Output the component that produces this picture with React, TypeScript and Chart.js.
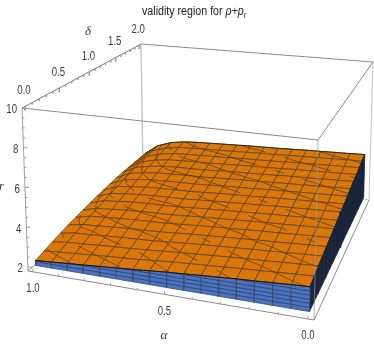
import React, { useEffect, useRef } from "react";
import { Chart, registerables } from "chart.js";
Chart.register(...registerables);

const alphaMesh = [1, 0.9375, 0.875, 0.8125, 0.75, 0.6875, 0.625, 0.5625, 0.5, 0.4375, 0.375, 0.3125, 0.25, 0.1875, 0.125, 0.0625, 0];
const deltaMesh = [0, 0.125, 0.25, 0.375, 0.5, 0.625, 0.75, 0.875, 1, 1.125, 1.25, 1.375, 1.5, 1.625, 1.75, 1.875, 2];
const levels = [2.19, 2.38, 2.56, 2.75, 2.94, 3.13, 3.31, 3.5, 3.69, 3.88, 4.06, 4.25, 4.44, 4.63, 4.81];
// surface height, one row per delta (front to back), one column per alpha
const zGrid = [
  [2.25, 2.30, 2.36, 2.42, 2.48, 2.54, 2.60, 2.67, 2.74, 2.79, 2.85, 2.90, 2.96, 3.00, 3.05, 3.10, 3.14],
  [2.35, 2.42, 2.48, 2.54, 2.60, 2.65, 2.70, 2.77, 2.84, 2.89, 2.94, 2.99, 3.05, 3.09, 3.14, 3.19, 3.23],
  [2.45, 2.56, 2.60, 2.66, 2.71, 2.75, 2.80, 2.87, 2.93, 2.98, 3.04, 3.09, 3.14, 3.18, 3.23, 3.28, 3.32],
  [2.54, 2.68, 2.71, 2.77, 2.82, 2.86, 2.90, 2.96, 3.03, 3.08, 3.13, 3.18, 3.23, 3.27, 3.32, 3.37, 3.41],
  [2.63, 2.78, 2.82, 2.88, 2.93, 2.96, 3.00, 3.06, 3.13, 3.17, 3.22, 3.27, 3.33, 3.36, 3.41, 3.46, 3.50],
  [2.69, 2.88, 2.93, 2.99, 3.04, 3.07, 3.10, 3.16, 3.22, 3.27, 3.32, 3.36, 3.42, 3.45, 3.50, 3.54, 3.58],
  [2.75, 2.97, 3.03, 3.10, 3.14, 3.17, 3.20, 3.26, 3.32, 3.36, 3.41, 3.46, 3.51, 3.54, 3.59, 3.63, 3.67],
  [2.81, 3.06, 3.13, 3.21, 3.25, 3.27, 3.30, 3.36, 3.41, 3.46, 3.50, 3.55, 3.60, 3.63, 3.68, 3.72, 3.76],
  [2.86, 3.14, 3.23, 3.31, 3.35, 3.38, 3.40, 3.46, 3.51, 3.55, 3.60, 3.64, 3.69, 3.73, 3.77, 3.81, 3.85],
  [2.90, 3.22, 3.32, 3.41, 3.45, 3.48, 3.50, 3.55, 3.61, 3.65, 3.69, 3.73, 3.78, 3.82, 3.86, 3.90, 3.94],
  [2.94, 3.29, 3.42, 3.51, 3.55, 3.58, 3.60, 3.65, 3.70, 3.74, 3.78, 3.83, 3.87, 3.91, 3.95, 3.99, 4.03],
  [2.98, 3.36, 3.51, 3.61, 3.65, 3.68, 3.70, 3.75, 3.80, 3.84, 3.87, 3.92, 3.96, 4.00, 4.04, 4.08, 4.12],
  [3.00, 3.42, 3.59, 3.70, 3.75, 3.77, 3.80, 3.85, 3.90, 3.93, 3.97, 4.01, 4.06, 4.09, 4.13, 4.17, 4.21],
  [3.00, 3.46, 3.67, 3.79, 3.84, 3.87, 3.90, 3.95, 3.99, 4.03, 4.06, 4.10, 4.15, 4.18, 4.22, 4.25, 4.29],
  [3.00, 3.50, 3.75, 3.88, 3.94, 3.97, 4.00, 4.04, 4.09, 4.12, 4.15, 4.20, 4.24, 4.27, 4.31, 4.34, 4.38],
  [3.00, 3.55, 3.83, 3.97, 4.03, 4.07, 4.10, 4.14, 4.18, 4.22, 4.25, 4.29, 4.33, 4.36, 4.40, 4.43, 4.47],
  [3.00, 3.60, 3.90, 4.05, 4.12, 4.16, 4.20, 4.24, 4.28, 4.31, 4.34, 4.38, 4.42, 4.45, 4.49, 4.52, 4.56],
];

const alphaMajor = [0, 0.5, 1];
const deltaMajor = [0, 0.5, 1, 1.5, 2];
const zMajor = [2, 4, 6, 8, 10];

function homography(p00: number[], p10: number[], p11: number[], p01: number[]) {
  const [x0, y0] = p00, [x1, y1] = p10, [x2, y2] = p11, [x3, y3] = p01;
  const dx1 = x1 - x2, dx2 = x3 - x2, sx = x0 - x1 + x2 - x3;
  const dy1 = y1 - y2, dy2 = y3 - y2, sy = y0 - y1 + y2 - y3;
  const den = dx1 * dy2 - dx2 * dy1;
  const g = (sx * dy2 - dx2 * sy) / den, h = (dx1 * sy - sx * dy1) / den;
  const a = x1 - x0 + g * x1, b = x3 - x0 + h * x3;
  const d = y1 - y0 + g * y1, e = y3 - y0 + h * y3;
  return (u: number, v: number) => {
    const w = g * u + h * v + 1;
    return [(a * u + b * v + x0) / w, (d * u + e * v + y0) / w];
  };
}
const topPlane = homography([22, 108], [318, 140], [373, 62], [141, 44]);
const botPlane = homography([28, 271], [314, 320], [369, 200], [143, 170]);
const uOf = (a: number) => (1.02 - a) / 1.04;
const vOf = (d: number) => (d + 0.04) / 2.08;
const wOf = (z: number) => (z - 1.8) / 8.2;
function proj(a: number, d: number, z: number) {
  const u = uOf(a), v = vOf(d), w = wOf(z);
  const t = topPlane(u, v), b = botPlane(u, v);
  return { x: b[0] + (t[0] - b[0]) * w, y: b[1] + (t[1] - b[1]) * w };
}

const ORANGE = "#da770a";
const MESH = "#553a1c";
const BLUE = "#4a72c0";
const NAVY = "#1f2f4e";
const BOX = "#8a8a8a";

function buildDatasets() {
  const ds: any[] = [];
  const line = (pts: any[], color: string, width: number) =>
    ds.push({ data: pts, showLine: true, borderColor: color, borderWidth: width, pointRadius: 0, fill: false, tension: 0 });
  const poly = (pts: any[], fill: string, edge: string, width: number) =>
    ds.push({ data: [...pts, pts[0]], showLine: true, backgroundColor: fill, borderColor: edge, borderWidth: width, pointRadius: 0, fill: "shape", tension: 0 });

  const c = (a: number, d: number, z: number) => proj(a, d, z);
  // back box lines
  line([c(1.02, 2.04, 1.8), c(1.02, 2.04, 10)], "#c8c8c8", 1.5);
  line([c(1.02, 2.04, 1.8), c(-0.02, 2.04, 1.8)], "#c8c8c8", 1);
  line([c(-0.02, 2.04, 1.8), c(-0.02, 2.04, 10)], "#c4c4c4", 1);
  line([c(1.02, 2.04, 10), c(-0.02, 2.04, 10)], BOX, 1);
  line([c(1.02, -0.04, 1.8), c(1.02, 2.04, 1.8)], BOX, 1);

  // surface, back to front
  for (let r = 15; r >= 0; r--) {
    for (let j = 0; j < 16; j++) {
      const a0 = alphaMesh[j], a1 = alphaMesh[j + 1], d0 = deltaMesh[r], d1 = deltaMesh[r + 1];
      const z00 = zGrid[r][j], z01 = zGrid[r][j + 1], z10 = zGrid[r + 1][j], z11 = zGrid[r + 1][j + 1];
      poly([c(a0, d0, z00), c(a1, d0, z01), c(a1, d1, z11), c(a0, d1, z10)], ORANGE, MESH, 0.7);
      const tris = [
        [[a0, d0, z00], [a1, d0, z01], [a1, d1, z11]],
        [[a0, d0, z00], [a1, d1, z11], [a0, d1, z10]],
      ];
      const seg: any[] = [];
      for (const L of levels) {
        for (const t of tris) {
          const hits: any[] = [];
          for (let e = 0; e < 3; e++) {
            const p = t[e], q = t[(e + 1) % 3];
            if ((p[2] - L) * (q[2] - L) < 0) {
              const f = (L - p[2]) / (q[2] - p[2]);
              hits.push(c(p[0] + (q[0] - p[0]) * f, p[1] + (q[1] - p[1]) * f, L));
            }
          }
          if (hits.length === 2) seg.push(hits[0], hits[1], { x: NaN, y: NaN });
        }
      }
      if (seg.length) line(seg, MESH, 0.7);
    }
  }

  // right wall
  for (let r = 15; r >= 0; r--) {
    const a = alphaMesh[16];
    const z0 = zGrid[r][16], z1 = zGrid[r + 1][16], d0 = deltaMesh[r], d1 = deltaMesh[r + 1];
    poly([c(a, d0, 2), c(a, d1, 2), c(a, d1, z1), c(a, d0, z0)], NAVY, "#141c2c", 0.7);
    const seg: any[] = [];
    for (const L of levels) {
      if (L < Math.max(z0, z1)) {
        const f = L >= z0 ? (L - z0) / (z1 - z0) : 0;
        seg.push(c(a, d0 + (d1 - d0) * f, L), c(a, d1, L), { x: NaN, y: NaN });
      }
    }
    if (seg.length) line(seg, "#141c2c", 0.7);
  }
  // front wall
  for (let j = 0; j < 16; j++) {
    const d = deltaMesh[0];
    const a0 = alphaMesh[j], a1 = alphaMesh[j + 1], z0 = zGrid[0][j], z1 = zGrid[0][j + 1];
    poly([c(a0, d, 2), c(a1, d, 2), c(a1, d, z1), c(a0, d, z0)], BLUE, "#3d4c6a", 0.8);
    const seg: any[] = [];
    for (const L of levels) {
      if (L < Math.max(z0, z1)) {
        const f = L >= z0 ? (L - z0) / (z1 - z0) : 0;
        seg.push(c(a0 + (a1 - a0) * f, d, L), c(a1, d, L), { x: NaN, y: NaN });
      }
    }
    if (seg.length) line(seg, "#2f3f60", 0.8);
  }
  // dark rims
  line(alphaMesh.map((a, j) => c(a, deltaMesh[0], zGrid[0][j])), "#151515", 1);
  line(alphaMesh.map((a, j) => c(a, deltaMesh[16], zGrid[16][j])), "#3a2a18", 1);
  line(deltaMesh.map((d, r) => c(alphaMesh[16], d, zGrid[r][16])), "#2a2018", 0.8);

  // front box lines
  line([c(1.02, -0.04, 10), c(1.02, -0.04, 1.8)], "#a0a0a0", 1);
  line([c(1.02, -0.04, 10), c(-0.02, -0.04, 10)], BOX, 1);
  line([c(-0.02, -0.04, 10), c(-0.02, -0.04, 1.8)], "rgba(150,150,150,0.7)", 1);
  line([c(1.02, -0.04, 1.8), c(-0.02, -0.04, 1.8)], BOX, 1);
  line([c(-0.02, -0.04, 1.8), c(-0.02, 2.04, 1.8)], BOX, 1);
  line([c(-0.02, -0.04, 10), c(-0.02, 2.04, 10)], BOX, 1);
  line([c(1.02, -0.04, 10), c(1.02, 2.04, 10)], "#777777", 1);

  // ticks
  const tick = (p: any, dx: number, dy: number, col = "#999999") => line([p, { x: p.x + dx, y: p.y + dy }], col, 1);
  for (let i = 0; i <= 10; i++) {
    const a = i / 10;
    tick(c(a, -0.04, 1.8), 0, alphaMajor.includes(a) ? -3 : -2);
  }
  for (let i = 0; i <= 20; i++) {
    const d = i / 10;
    tick(c(1.02, d, 10), 0, deltaMajor.includes(d) ? 4 : 2);
  }
  for (let i = 4; i <= 20; i++) {
    const z = i / 2;
    tick(c(1.02, -0.04, z), zMajor.includes(z) ? 4 : 2, 0);
  }
  return ds.reverse();
}

// draws squeezed text; returns its drawn width
function put(x: any, s: string, px: number, py: number, font: string, sx: number, align = "left") {
  x.save();
  x.font = font;
  const w = x.measureText(s).width * sx;
  const left = align === "center" ? px - w / 2 : align === "right" ? px - w : px;
  x.translate(left, py);
  x.scale(sx, 1);
  x.textAlign = "left";
  x.fillText(s, 0, 0);
  x.restore();
  return w;
}

const labelPlugin = {
  id: "labels3d",
  afterDraw(chart: any) {
    const x = chart.ctx;
    x.save();
    x.fillStyle = "#3a3a3a";
    x.textBaseline = "middle";
    const font = "12px 'Liberation Sans'";
    for (const a of alphaMajor) {
      const p = proj(a, -0.04, 1.8);
      put(x, a.toFixed(1), p.x, p.y + 17, font, 0.8, "center");
    }
    for (const d of deltaMajor) {
      const p = proj(1.02, d, 10);
      put(x, d.toFixed(1), p.x - 1, p.y - 15.5, font, 0.8, "center");
    }
    for (const z of zMajor) {
      const p = proj(1.02, -0.04, z);
      put(x, String(z), p.x - 5, p.y + 2, font, 0.8, "right");
    }
    const it = "italic 13px 'Liberation Serif'";
    put(x, "r", -1, 187, it, 1);
    put(x, "δ", 88, 32, it, 1, "center");
    put(x, "α", 164, 336, it, 1, "center");
    // title
    x.fillStyle = "#222222";
    const reg = "13px 'Liberation Sans'";
    const ital = "italic 13px 'Liberation Sans'";
    const sq = 0.82;
    let tx = 142;
    tx += put(x, "validity region for ", tx, 11, reg, sq);
    tx += put(x, "ρ", tx, 11, ital, sq);
    tx += put(x, "+", tx, 11, reg, sq);
    tx += put(x, "p", tx, 11, ital, sq);
    put(x, "r", tx, 15, "italic 9px 'Liberation Sans'", sq);
    x.restore();
  },
};

export default function App() {
  const ref = useRef<HTMLCanvasElement>(null);
  useEffect(() => {
    const chart = new Chart(ref.current!, {
      type: "scatter",
      data: { datasets: buildDatasets() },
      options: {
        animation: false,
        responsive: false,
        layout: { padding: 0 },
        scales: {
          x: { type: "linear", display: false, min: 0, max: 374 },
          y: { type: "linear", display: false, min: 0, max: 346, reverse: true },
        },
        plugins: { legend: { display: false }, tooltip: { enabled: false }, filler: { propagate: false, drawTime: "beforeDatasetDraw" } },
      },
      plugins: [labelPlugin],
    } as any);
    return () => chart.destroy();
  }, []);
  return (
    <div style={{ position: "fixed", left: 0, top: 0, width: 374, height: 346 }}>
      <canvas ref={ref} width={374} height={346} style={{ display: "block" }} />
    </div>
  );
}
